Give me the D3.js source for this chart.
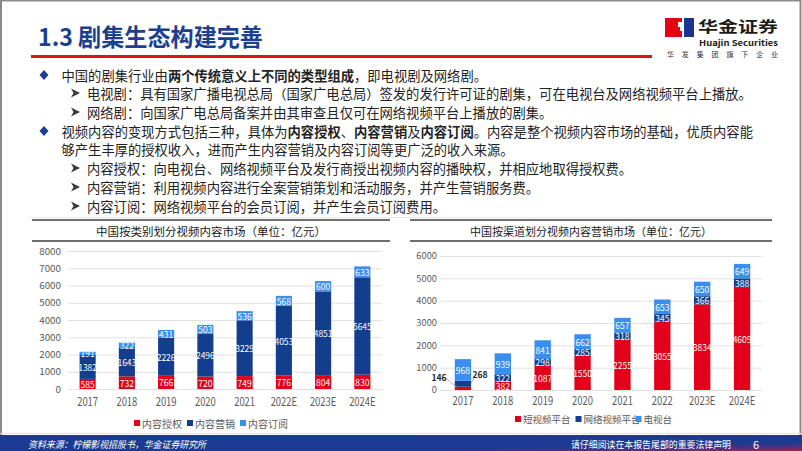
<!DOCTYPE html>
<html><head><meta charset="utf-8">
<script src="https://cdn.jsdelivr.net/npm/d3@7"></script>
<style>
html,body{margin:0;padding:0;background:#fff;}
svg{display:block;}
text{font-family:"Noto Sans CJK SC","Noto Sans",sans-serif;}
</style></head>
<body><svg id="c" width="802" height="451"></svg>
<script>
// ---------- DATA ----------
const years1 = ["2017","2018","2019","2020","2021","2022E","2023E","2024E"];
const licensing = [585,732,766,720,749,776,804,830];          // 内容授权
const marketing = [1382,1643,2226,2496,3229,4053,4851,5645];  // 内容营销
const subscription = [191,322,431,503,536,568,600,633];       // 内容订阅
const series1Names = ["内容授权","内容营销","内容订阅"];
const yTicks1 = [0,1000,2000,3000,4000,5000,6000,7000,8000];

const years2 = ["2017","2018","2019","2020","2021","2022","2023E","2024E"];
const shortVideo = [146,382,1087,1550,2255,3055,3834,4609];  // 短视频平台
const onlineVideo = [268,322,298,285,318,345,366,388];       // 网络视频平台
const tvStation = [968,939,841,662,657,653,650,649];         // 电视台
const series2Names = ["短视频平台","网络视频平台","电视台"];
const yTicks2 = [0,1000,2000,3000,4000,5000,6000];

const pageTitle = "1.3 剧集生态构建完善";
const chart1Title = "中国按类别划分视频内容市场（单位：亿元）";
const chart2Title = "中国按渠道划分视频内容营销市场（单位：亿元）";
const sourceText = "资料来源：柠檬影视招股书，华金证券研究所";
const noticeText = "请仔细阅读在本报告尾部的重要法律声明";
const pageNum = "6";

const bodyLines = [
  {type:"bullet", segs:[["中国的剧集行业由",0],["两个传统意义上不同的类型组成",1],["，即电视剧及网络剧。",0]]},
  {type:"arrow", segs:[["电视剧：具有国家广播电视总局（国家广电总局）签发的发行许可证的剧集，可在电视台及网络视频平台上播放。",0]]},
  {type:"arrow", segs:[["网络剧：向国家广电总局备案并由其审查且仅可在网络视频平台上播放的剧集。",0]]},
  {type:"bullet", segs:[["视频内容的变现方式包括三种，具体为",0],["内容授权",1],["、",0],["内容营销",1],["及",0],["内容订阅",1],["。内容是整个视频内容市场的基础，优质内容能",0]]},
  {type:"cont", segs:[["够产生丰厚的授权收入，进而产生内容营销及内容订阅等更广泛的收入来源。",0]]},
  {type:"arrow", segs:[["内容授权：向电视台、网络视频平台及发行商授出视频内容的播映权，并相应地取得授权费。",0]]},
  {type:"arrow", segs:[["内容营销：利用视频内容进行全案营销策划和活动服务，并产生营销服务费。",0]]},
  {type:"arrow", segs:[["内容订阅：网络视频平台的会员订阅，并产生会员订阅费用。",0]]}
];

// ---------- COLORS ----------
const RED = "#e2001a", NAVY = "#133d8d", BLUE = "#3a8ef0";
const colors = [RED, NAVY, BLUE];

const svg = d3.select("#c");

// page border
svg.append("rect").attr("x",1).attr("y",0.5).attr("width",799.5).attr("height",450)
  .attr("fill","none").attr("stroke","#8a8a8a").attr("stroke-width",2);

// ---------- HEADER ----------
svg.append("text").attr("x",38).attr("y",46).text(pageTitle)
  .attr("font-size",24).attr("font-weight","bold").attr("fill","#1d3f8f")
  .attr("textLength",225).attr("lengthAdjust","spacingAndGlyphs");
svg.append("rect").attr("x",31).attr("y",55).attr("width",621).attr("height",3).attr("fill","#d9161c");

// logo
const logo = svg.append("g");
logo.append("rect").attr("x",665).attr("y",18).attr("width",17).attr("height",19).attr("fill","#e60012");
logo.append("rect").attr("x",684).attr("y",18).attr("width",10).attr("height",19).attr("fill","#1d3390");
logo.append("path").attr("d","M678,22 L684,22 L684,31 L680,31 L680,27 L678,27 Z").attr("fill","#fff");
logo.append("text").attr("x",698).attr("y",32).text("华金证券").attr("font-size",15).attr("font-weight","bold")
  .attr("fill","#1a1a1a").attr("textLength",80).attr("lengthAdjust","spacingAndGlyphs");
logo.append("text").attr("x",699).attr("y",46).text("Huajin Securities").attr("font-size",8).attr("font-weight","bold")
  .attr("fill","#1a1a1a").attr("font-family","Liberation Sans, Arial, sans-serif")
  .attr("textLength",79).attr("lengthAdjust","spacingAndGlyphs");
logo.append("text").attr("x",667).attr("y",57).text("华 发 集 团 旗 下 企 业").attr("font-size",7)
  .attr("fill","#333").attr("textLength",111).attr("lengthAdjust","spacing");

// ---------- BODY TEXT ----------
const lineY = [75, 93, 112, 131, 149, 168, 187, 206];
bodyLines.forEach((ln,i)=>{
  const y = lineY[i];
  let x = 61.5;
  if (ln.type==="bullet") {
    svg.append("path").attr("d",`M44,${y-5} L48.5,${y} L44,${y+5} L39.5,${y} Z`).attr("fill","#1f3f8f");
  } else if (ln.type==="arrow") {
    x = 87;
    svg.append("path").attr("d",`M71,${y-4.5} L80,${y} L71,${y+4.5} L73.5,${y} Z`).attr("fill","#3a3a3a");
  }
  const t = svg.append("text").attr("x",x).attr("y",y).attr("dominant-baseline","central")
    .attr("font-size",13.3).attr("fill","#222");
  ln.segs.forEach(s=>{
    t.append("tspan").text(s[0]).attr("font-weight", s[1] ? "bold" : "normal");
  });
});
svg.append("line").attr("x1",30).attr("x2",772).attr("y1",217.5).attr("y2",217.5).attr("stroke","#e8e8e8");

// ---------- CHART HELPERS ----------
function chartTitle(x1,x2,title,fs){
  svg.append("line").attr("x1",x1).attr("x2",x2).attr("y1",220).attr("y2",220).attr("stroke","#3f3f3f").attr("stroke-width",1.5);
  svg.append("line").attr("x1",x1).attr("x2",x2).attr("y1",241).attr("y2",241).attr("stroke","#3f3f3f").attr("stroke-width",1.5);
  svg.append("text").attr("x",(x1+x2)/2).attr("y",230.5).attr("text-anchor","middle").attr("dominant-baseline","central")
    .attr("font-size",fs).attr("fill","#1a1a1a").text(title);
}

function drawChart(cfg){
  const g = svg.append("g");
  const x = d3.scaleBand().domain(cfg.cats).range([cfg.x0,cfg.x1]).paddingInner(0.59).paddingOuter(0.295);
  const y = d3.scaleLinear().domain([0,cfg.ymax]).range([cfg.yb,cfg.yt]);

  const ya = g.append("g").attr("transform",`translate(${cfg.gx0},0)`)
    .call(d3.axisLeft(y).tickValues(cfg.ticks).tickSize(-(cfg.gx1-cfg.gx0)).tickPadding(cfg.ypad).tickFormat(d3.format("d")));
  ya.select(".domain").remove();
  ya.selectAll(".tick line").attr("stroke","#d9d9d9").attr("stroke-width",0.8);
  ya.selectAll(".tick text").attr("fill","#595959").attr("font-size",cfg.yfs)
    .attr("font-family","Liberation Sans, Arial, sans-serif");

  const rows = cfg.cats.map((c,i)=>{const o={cat:c}; cfg.keys.forEach((k,j)=>o[k]=cfg.vals[j][i]); return o;});
  const stack = d3.stack().keys(cfg.keys)(rows);
  stack.forEach((layer,j)=>{
    g.append("g").selectAll("rect").data(layer).join("rect")
      .attr("x",d=>x(d.data.cat)).attr("width",x.bandwidth())
      .attr("y",d=>y(d[1])).attr("height",d=>y(d[0])-y(d[1]))
      .attr("fill",colors[j]);
  });
  stack.forEach((layer,j)=>{
    layer.forEach((d,i)=>{
      const v = d[1]-d[0];
      const cx = x(d.data.cat)+x.bandwidth()/2;
      const cy = (y(d[0])+y(d[1]))/2;
      const ext = cfg.outside && cfg.outside.find(o=>o.series===j && o.index===i);
      if (ext) {
        g.append("line").attr("x1",cx+ext.lx1).attr("y1",cy+ext.ly1).attr("x2",cx+ext.lx2).attr("y2",cy+ext.ly2)
          .attr("stroke","#a6a6a6").attr("stroke-width",0.8);
        g.append("text").attr("x",cx+ext.tx).attr("y",cy+ext.ty).attr("text-anchor","middle").attr("dominant-baseline","central")
          .attr("font-size",8.5).attr("font-weight","bold").attr("fill","#262626")
          .attr("font-family","Liberation Sans, Arial, sans-serif").text(v);
      } else {
        g.append("text").attr("x",cx).attr("y",cy).attr("text-anchor","middle").attr("dominant-baseline","central")
          .attr("font-size",8.5).attr("fill","#fff")
          .attr("font-family","Liberation Sans, Arial, sans-serif").text(v);
      }
    });
  });

  const xa = g.append("g").attr("transform",`translate(0,${cfg.yb})`)
    .call(d3.axisBottom(x).tickSize(0).tickPadding(cfg.xpad));
  xa.select(".domain").remove();
  xa.selectAll(".tick text").attr("fill","#595959").attr("font-size",11.5)
    .attr("font-family","Liberation Sans, Arial, sans-serif").attr("transform","scale(0.82,1)");

  const lg = g.append("g");
  cfg.names.forEach((n,j)=>{
    const lx = cfg.legX[j];
    lg.append("rect").attr("x",lx).attr("y",cfg.legY-3).attr("width",6).attr("height",6).attr("fill",colors[j]);
    lg.append("text").attr("x",lx+8).attr("y",cfg.legY).attr("dominant-baseline","central")
      .attr("font-size",cfg.legFs).attr("fill","#595959").text(n);
  });
}

// ---------- LEFT CHART ----------
chartTitle(32,390,chart1Title,11.5);
drawChart({
  cats: years1, keys:["a","b","c"], vals:[licensing,marketing,subscription], names: series1Names,
  x0:68, x1:382, gx0:68, gx1:382, yb:389, yt:251, ymax:8000, ticks:yTicks1, ypad:7, yfs:9.8,
  xpad:9, legX:[134,187,240], legY:423, legFs:10
});

// ---------- RIGHT CHART ----------
chartTitle(410,772,chart2Title,11);
drawChart({
  cats: years2, keys:["a","b","c"], vals:[shortVideo,onlineVideo,tvStation], names: series2Names,
  x0:443, x1:762, gx0:440, gx1:762, yb:390, yt:256, ymax:6000, ticks:yTicks2, ypad:3, yfs:9.3,
  xpad:7, legX:[515,575.5,635.5], legY:419, legFs:9.5,
  outside:[
    {series:0,index:0, tx:-24, ty:-11, lx1:-17, ly1:-10, lx2:-6, ly2:-1},
    {series:1,index:0, tx:17, ty:-10, lx1:8, ly1:0, lx2:12, ly2:-8}
  ]
});

// ---------- FOOTER ----------
const defs = svg.append("defs");
const grad = defs.append("linearGradient").attr("id","fg").attr("x1","0").attr("y1","0").attr("x2","1").attr("y2","1");
grad.append("stop").attr("offset","0").attr("stop-color","#1b3a93");
grad.append("stop").attr("offset","0.72").attr("stop-color","#1d3a92");
grad.append("stop").attr("offset","0.9").attr("stop-color","#5a2f7c");
grad.append("stop").attr("offset","1").attr("stop-color","#c2182f");
svg.append("line").attr("x1",0).attr("x2",802).attr("y1",433.5).attr("y2",433.5).attr("stroke","#cfeaf4");
svg.append("rect").attr("x",0).attr("y",435).attr("width",802).attr("height",16).attr("fill","url(#fg)");
svg.append("text").attr("x",28).attr("y",443.5).attr("dominant-baseline","central").attr("font-size",9.5)
  .attr("font-style","italic").attr("fill","#fff").attr("textLength",178).attr("lengthAdjust","spacingAndGlyphs").text(sourceText);
svg.append("text").attr("x",571).attr("y",443.5).attr("dominant-baseline","central").attr("font-size",9.5)
  .attr("fill","#fff").attr("textLength",160).attr("lengthAdjust","spacingAndGlyphs").text(noticeText);
svg.append("text").attr("x",756).attr("y",443.5).attr("dominant-baseline","central").attr("text-anchor","middle")
  .attr("font-size",11).attr("fill","#fff").attr("font-family","Liberation Sans, Arial, sans-serif").text(pageNum);
</script>
</body></html>
